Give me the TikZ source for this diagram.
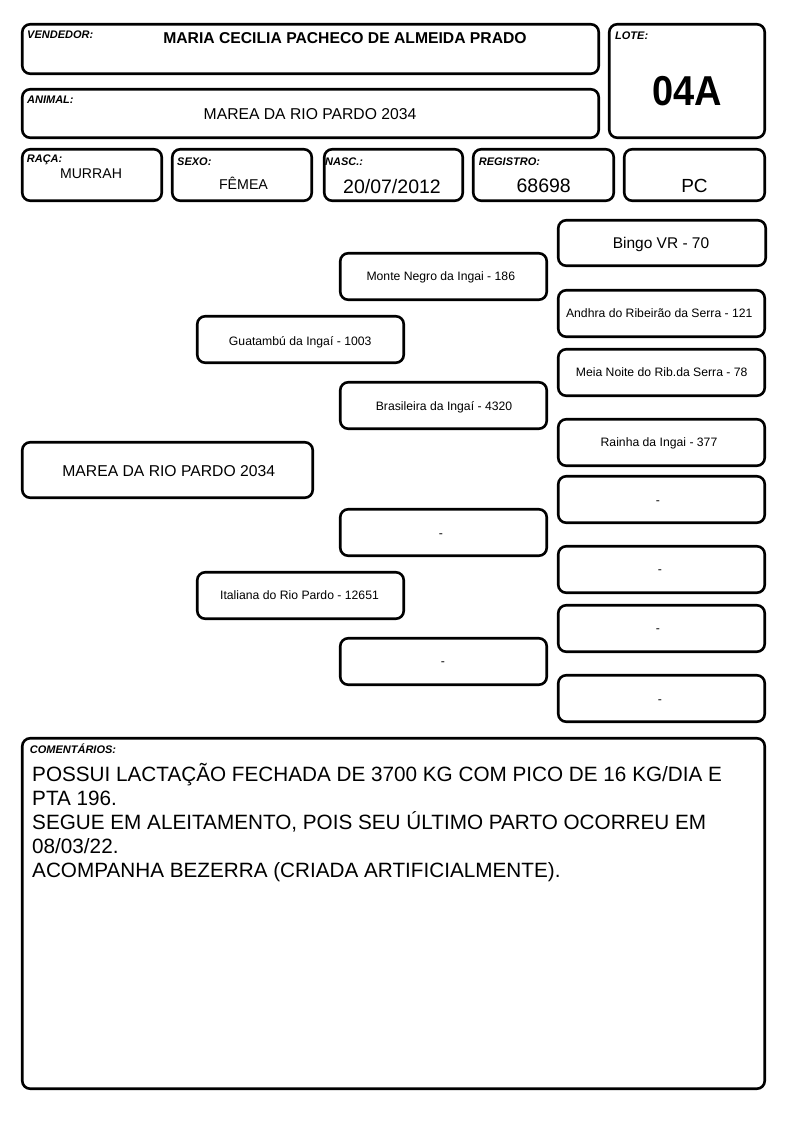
\documentclass[tikz,border=0pt]{standalone}
\usepackage{fontspec}
\usepackage{graphicx}
\setmainfont{Liberation Sans}
\begin{document}
\begin{tikzpicture}[x=1pt,y=-1pt,
  box/.style={draw=black,line width=2.6pt,rounded corners=8pt,inner sep=0pt},
  lab/.style={anchor=base west,inner sep=0pt,font=\fontsize{11}{13}\selectfont\bfseries\itshape},
  val/.style={anchor=base,inner sep=0pt},
  ped/.style={anchor=base,inner sep=0pt,font=\fontsize{12.2}{14}\selectfont},
  com/.style={anchor=base west,inner sep=0pt,font=\fontsize{20.7}{24}\selectfont}]
\useasboundingbox (0,0) rectangle (794,1123);
% header boxes
\node[box,minimum width=576.5pt,minimum height=49.5pt] (vend) at (310.5,49) {};
\node[box,minimum width=155.5pt,minimum height=113.5pt] (lote) at (687,81) {};
\node[box,minimum width=576.5pt,minimum height=48.5pt] (animal) at (310.5,113.5) {};
\node[box,minimum width=139.5pt,minimum height=51.5pt] (raca) at (92,175) {};
\node[box,minimum width=139.5pt,minimum height=51.5pt] (sexo) at (242,175) {};
\node[box,minimum width=138.5pt,minimum height=51.5pt] (nasc) at (393.5,175) {};
\node[box,minimum width=140.5pt,minimum height=51.5pt] (reg) at (543.5,175) {};
\node[box,minimum width=140.5pt,minimum height=51.5pt] (pc) at (694.5,175) {};
% header texts
\node[lab] (tvend) at (27,39) {VENDEDOR:};
\node[lab] (tlote) at (615,39.3) {LOTE:};
\node[lab] (tanimal) at (27,103.3) {ANIMAL:};
\node[lab] (traca) at (26.7,162.5) {RAÇA:};
\node[lab] (tsexo) at (177,165.5) {SEXO:};
\node[lab] (tnasc) at (325,165.5) {NASC.:};
\node[lab] (treg) at (478.7,165.5) {REGISTRO:};
\node[val,font=\fontsize{15.7}{18}\selectfont\bfseries] (vvend) at (345,43.3) {MARIA CECILIA PACHECO DE ALMEIDA PRADO};
\node[val,font=\fontsize{38}{40}\selectfont\bfseries] (vlote) at (687.5,106) {\scalebox{1}[1.1]{04A}};
\node[val,font=\fontsize{15.7}{18}\selectfont] (vanimal) at (310,119.3) {MAREA DA RIO PARDO 2034};
\node[val,font=\fontsize{14.1}{16}\selectfont] (vraca) at (91,178.3) {MURRAH};
\node[val,font=\fontsize{14.2}{16}\selectfont] (vsexo) at (243.5,189.3) {FÊMEA};
\node[val,font=\fontsize{19.5}{22}\selectfont] (vnasc) at (392,193.3) {20/07/2012};
\node[val,font=\fontsize{19.5}{22}\selectfont] (vreg) at (543.7,192.7) {68698};
\node[val,font=\fontsize{19}{22}\selectfont] (vpc) at (694.5,192.7) {PC};
% pedigree boxes
\node[box,minimum width=207.5pt,minimum height=45.5pt] (bingo) at (662,243) {};
\node[box,minimum width=206.5pt,minimum height=46.5pt] (monte) at (443.5,276.5) {};
\node[box,minimum width=206.5pt,minimum height=46.5pt] (andhra) at (661.5,313.5) {};
\node[box,minimum width=206.5pt,minimum height=46.5pt] (guat) at (300.5,339.5) {};
\node[box,minimum width=206.5pt,minimum height=46.5pt] (meia) at (661.5,372.5) {};
\node[box,minimum width=206.5pt,minimum height=46.5pt] (bras) at (443.5,405.5) {};
\node[box,minimum width=206.5pt,minimum height=46.5pt] (rainha) at (661.5,442.5) {};
\node[box,minimum width=290.5pt,minimum height=55.5pt] (marea) at (167.5,470) {};
\node[box,minimum width=206.5pt,minimum height=46.5pt] (d1) at (661.5,499.5) {};
\node[box,minimum width=206.5pt,minimum height=46.5pt] (m1) at (443.5,532.5) {};
\node[box,minimum width=206.5pt,minimum height=46.5pt] (d2) at (661.5,569.5) {};
\node[box,minimum width=206.5pt,minimum height=46.5pt] (ital) at (300.5,595.5) {};
\node[box,minimum width=206.5pt,minimum height=46.5pt] (d3) at (661.5,628.5) {};
\node[box,minimum width=206.5pt,minimum height=46.5pt] (m2) at (443.5,661.5) {};
\node[box,minimum width=206.5pt,minimum height=46.5pt] (d4) at (661.5,698.5) {};
% pedigree texts
\node[ped,font=\fontsize{15.5}{18}\selectfont] (tbingo) at (661,248.3) {Bingo VR - 70};
\node[ped] (tmonte) at (440.8,280.7) {Monte Negro da Ingai - 186};
\node[ped] (tandhra) at (659.3,317.3) {Andhra do Ribeirão da Serra - 121};
\node[ped] (tguat) at (300.2,345.5) {Guatambú da Ingaí - 1003};
\node[ped] (tmeia) at (661.7,376) {Meia Noite do Rib.da Serra - 78};
\node[ped] (tbras) at (444,410) {Brasileira da Ingaí - 4320};
\node[ped] (trainha) at (659,446.7) {Rainha da Ingai - 377};
\node[ped,font=\fontsize{15.7}{18}\selectfont] (tmarea) at (168.7,476.7) {MAREA DA RIO PARDO 2034};
\node[ped] (td1) at (658,504) {-};
\node[ped] (tm1) at (441,537.5) {-};
\node[ped] (td2) at (660,573) {-};
\node[ped] (tital) at (299.5,599.3) {Italiana do Rio Pardo - 12651};
\node[ped] (td3) at (658,632) {-};
\node[ped] (tm2) at (443,665) {-};
\node[ped] (td4) at (660,703) {-};
% comments
\node[box,minimum width=742.5pt,minimum height=350.5pt] (coment) at (393.5,913.5) {};
\node[lab] (tcoment) at (29.7,753.6) {COMENTÁRIOS:};
\node[com] (c1) at (32,781.5) {POSSUI LACTAÇÃO FECHADA DE 3700 KG COM PICO DE 16 KG/DIA E};
\node[com] (c2) at (32,805.6) {PTA 196.};
\node[com] (c3) at (32,829.7) {SEGUE EM ALEITAMENTO, POIS SEU ÚLTIMO PARTO OCORREU EM};
\node[com] (c4) at (32,853.8) {08/03/22.};
\node[com] (c5) at (32,877.9) {ACOMPANHA BEZERRA (CRIADA ARTIFICIALMENTE).};
\end{tikzpicture}
\end{document}
